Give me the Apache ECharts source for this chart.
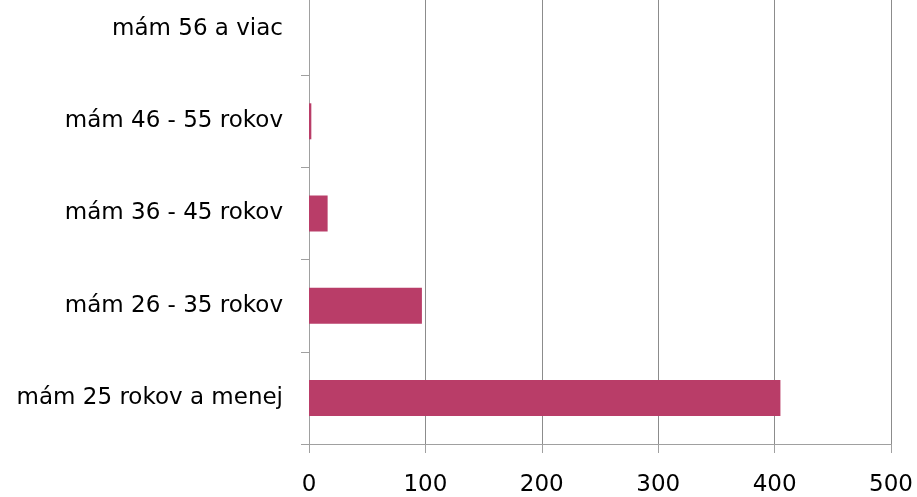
<!DOCTYPE html>
<html lang="sk">
<head>
	<meta charset="UTF-8">
	<title>Vek</title>
	<style>
		html,body{margin:0px;padding:0px;background:#fff;overflow:hidden;}
		/* plot top sits above the visible area in the original, so shift the canvas up */
		#show{width:917px;height:514px;margin-top:-17px;}
	</style>
</head>
<body>
	<div id="show"></div>
</body>
</html>
<script type="text/javascript" src="https://cdn.jsdelivr.net/npm/echarts@6/dist/echarts.min.js"></script>
<script type="text/javascript">
	// categories bottom -> top
	var categories = ['mám 25 rokov a menej', 'mám 26 - 35 rokov', 'mám 36 - 45 rokov', 'mám 46 - 55 rokov', 'mám 56 a viac'];
	var values = [405, 97, 16, 2, 0];
	var xTicks = [0, 100, 200, 300, 400, 500];

	var font = 'DejaVu Sans';
	var option = {
		animation: false,
		grid: {
			left: 309,
			right: 26,
			top: 0,
			bottom: 53,
			containLabel: false
		},
		xAxis: {
			type: 'value',
			min: xTicks[0],
			max: xTicks[xTicks.length - 1],
			interval: 100,
			axisLine: {show: true, lineStyle: {color: '#a0a0a0', width: 1}},
			axisTick: {show: true, length: 9, lineStyle: {color: '#a0a0a0'}},
			axisLabel: {color: '#000', fontFamily: font, fontSize: 23, margin: 30},
			splitLine: {show: true, lineStyle: {color: '#8c8c8c', width: 1}}
		},
		yAxis: {
			type: 'category',
			data: categories,
			axisLine: {show: true, lineStyle: {color: '#a0a0a0', width: 1}},
			axisTick: {show: true, length: 8, lineStyle: {color: '#a0a0a0'}},
			axisLabel: {color: '#000', fontFamily: font, fontSize: 23, margin: 26, padding: [3, 0, 0, 0]},
			splitLine: {show: false}
		},
		series: [{
			type: 'bar',
			data: values,
			barWidth: 36,
			itemStyle: {color: '#b93d68'}
		}]
	};
	var myChart = echarts.init(document.getElementById('show'));
	myChart.setOption(option);
</script>
